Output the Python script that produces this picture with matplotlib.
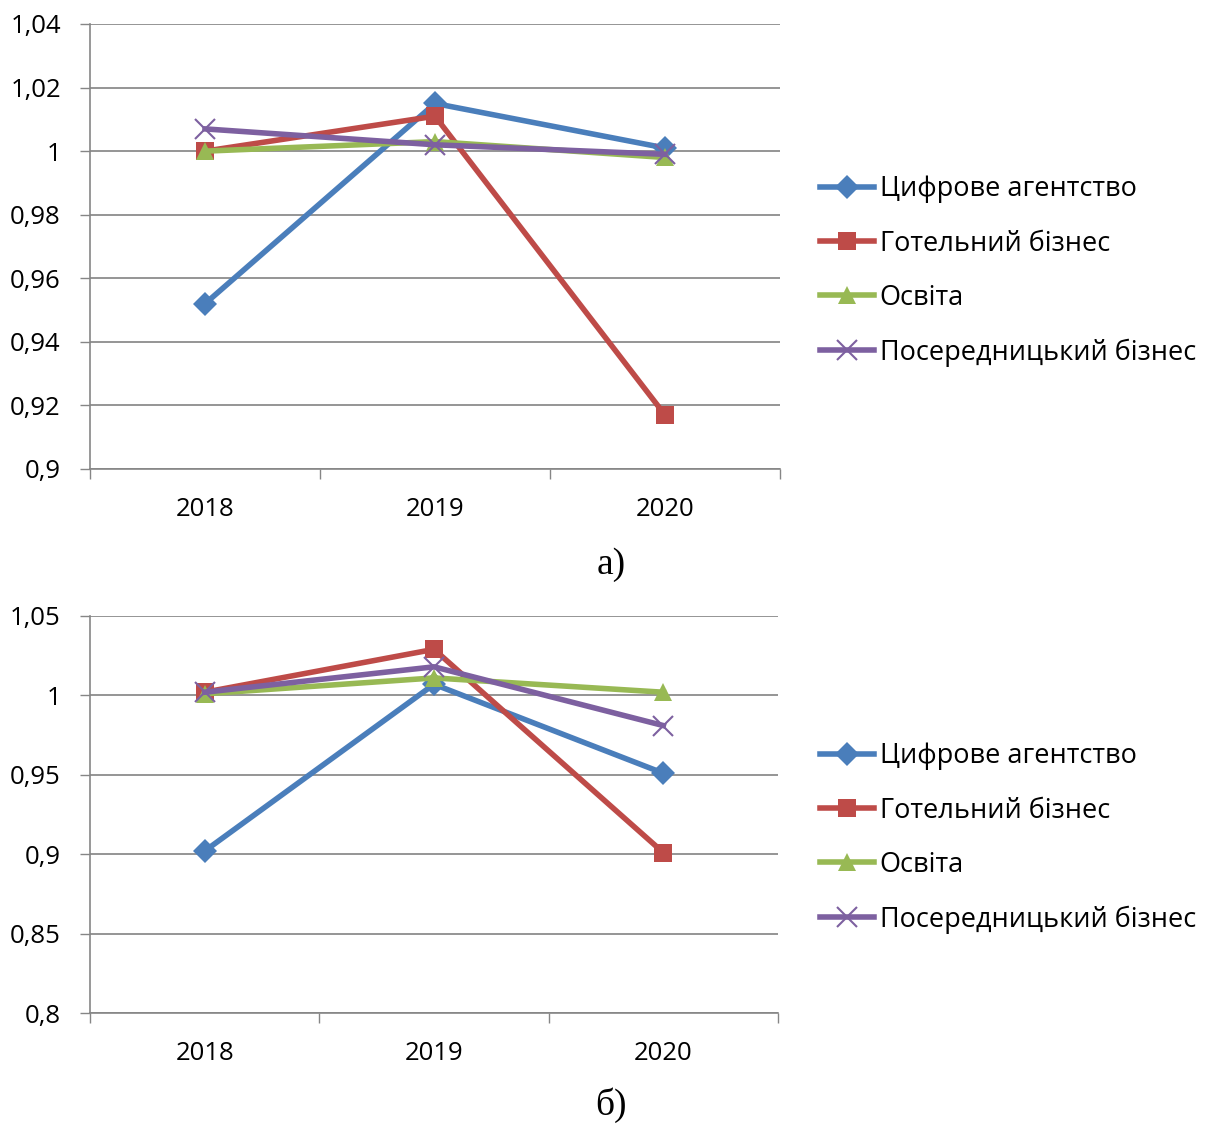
import matplotlib.pyplot as plt
from matplotlib.ticker import FuncFormatter, FixedLocator

plt.rcParams['font.family'] = ['Open Sans', 'DejaVu Sans']

years = ['2018', '2019', '2020']
series_names = ['Цифрове агентство', 'Готельний бізнес', 'Освіта', 'Посередницький бізнес']

# а) перша група показників
digital_a = [0.952, 1.015, 1.001]
hotel_a = [1.000, 1.011, 0.917]
education_a = [1.000, 1.003, 0.998]
broker_a = [1.007, 1.002, 0.999]

# б) друга група показників
digital_b = [0.902, 1.007, 0.951]
hotel_b = [1.002, 1.029, 0.901]
education_b = [1.001, 1.011, 1.002]
broker_b = [1.002, 1.018, 0.981]

colors = ['#4A7EBB', '#BE4B48', '#98B954', '#7D60A0']
markers = ['D', 's', '^', 'x']
msizes = [12, 13, 13, 14]

W, H = 1212, 1124


def comma_fmt(v, pos):
    return ('%g' % round(v, 4)).replace('.', ',')


def draw_panel(ax, data, ylim, step, legend_y):
    x = range(len(years))
    lines = []
    for vals, name, c, m, ms in zip(data, series_names, colors, markers, msizes):
        ln, = ax.plot(x, vals, color=c, lw=4, marker=m, markersize=ms,
                      markeredgewidth=1.5 if m == 'x' else 0, label=name,
                      solid_joinstyle='round')
        lines.append(ln)
    ax.set_xlim(-0.5, 2.5)
    ax.set_ylim(*ylim)
    n = int(round((ylim[1] - ylim[0]) / step))
    ax.set_yticks([ylim[0] + i * step for i in range(n + 1)])
    ax.yaxis.set_major_formatter(FuncFormatter(comma_fmt))
    ax.set_xticks(list(x))
    ax.set_xticklabels(years)
    ax.xaxis.set_minor_locator(FixedLocator([-0.5, 0.5, 1.5, 2.5]))
    ax.tick_params(axis='x', which='major', length=0, pad=20, labelsize=18.5)
    ax.tick_params(axis='x', which='minor', length=7, color='#868686', width=1)
    ax.tick_params(axis='y', length=7, color='#868686', width=1, labelsize=18.5, pad=14)
    ax.grid(axis='y', color='#8C8C8C', lw=1.3)
    ax.set_axisbelow(True)
    for s in ['top', 'right']:
        ax.spines[s].set_visible(False)
    for s in ['left', 'bottom']:
        ax.spines[s].set_color('#868686')
        ax.spines[s].set_linewidth(1.2)
    ax.legend(handles=lines, loc='center left',
              bbox_to_anchor=(820 / W, 1 - legend_y / H),
              bbox_transform=ax.figure.transFigure,
              frameon=False, fontsize=19.5, handlelength=2.0, handletextpad=0.2,
              labelspacing=0.97, borderaxespad=0, borderpad=0)


fig = plt.figure(figsize=(12.12, 11.24), dpi=100)
ax1 = fig.add_axes([90 / W, 1 - 469 / H, 690 / W, 445 / H])
ax2 = fig.add_axes([90 / W, 1 - 1013 / H, 688 / W, 397 / H])

draw_panel(ax1, [digital_a, hotel_a, education_a, broker_a], (0.9, 1.04), 0.02, 271)
draw_panel(ax2, [digital_b, hotel_b, education_b, broker_b], (0.8, 1.05), 0.05, 838)

fig.text(611 / W, 1 - 565 / H, 'а)', ha='center', va='center', fontsize=27,
         family=['Liberation Serif', 'DejaVu Serif'])
fig.text(611 / W, 1 - 1105 / H, 'б)', ha='center', va='center', fontsize=27,
         family=['Liberation Serif', 'DejaVu Serif'])

fig.savefig('out.png', dpi=100)
